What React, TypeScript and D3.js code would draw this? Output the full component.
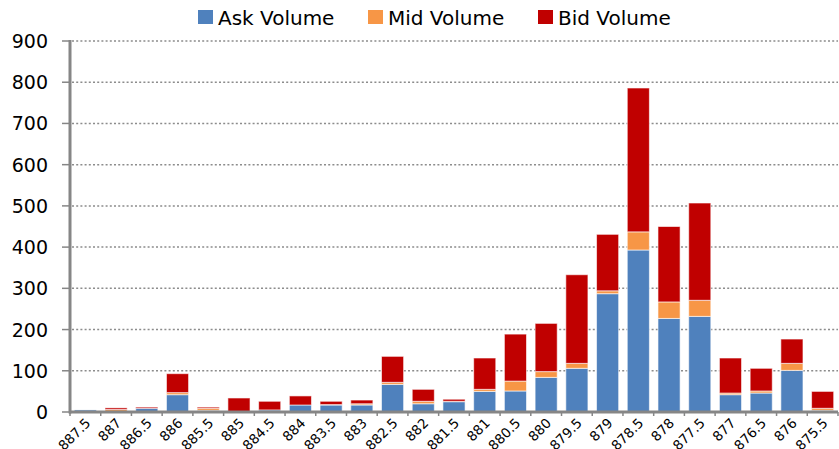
import React from 'react';
import * as d3 from 'd3';

const W = 839;
const H = 449;
const MARGIN = { top: 41, right: 1, bottom: 37, left: 70 };
const INNER_W = W - MARGIN.left - MARGIN.right;
const INNER_H = H - MARGIN.top - MARGIN.bottom;

const PRICES = [
  '887.5', '887', '886.5', '886', '885.5', '885', '884.5', '884', '883.5', '883',
  '882.5', '882', '881.5', '881', '880.5', '880', '879.5', '879', '878.5', '878',
  '877.5', '877', '876.5', '876', '875.5',
];
const ASK = [5, 1, 9, 42, 4, 0, 5, 17, 17, 17, 67, 20, 25, 50, 51, 84, 106, 287, 393, 227, 232, 42, 46, 101, 4];
const MID = [0, 5, 0, 5, 5, 0, 0, 0, 1, 3, 5, 6, 1, 5, 24, 14, 12, 7, 44, 40, 39, 4, 5, 17, 5];
const BID = [0, 4, 3, 46, 3, 34, 21, 22, 8, 9, 63, 29, 5, 76, 114, 117, 215, 137, 349, 183, 236, 85, 55, 59, 41];
const Y_TICKS = [0, 100, 200, 300, 400, 500, 600, 700, 800, 900];

const SERIES = [
  { key: 'ask', label: 'Ask Volume', color: '#4F81BD', values: ASK },
  { key: 'mid', label: 'Mid Volume', color: '#F79646', values: MID },
  { key: 'bid', label: 'Bid Volume', color: '#C00000', values: BID },
];

const FONT = 'Verdana, "DejaVu Sans", sans-serif';

export default function App() {
  const x = d3.scaleBand().domain(PRICES).range([0, INNER_W]).paddingInner(0.28).paddingOuter(0.14);
  const y = d3.scaleLinear().domain([0, 900]).range([INNER_H, 0]);

  const rows = PRICES.map((p, i) => ({ price: p, ask: ASK[i], mid: MID[i], bid: BID[i] }));
  const stacked = d3.stack<any>().keys(SERIES.map((s) => s.key))(rows);

  const step = x.step();
  const boundaries = d3.range(PRICES.length + 1).map((i) => i * step);

  const legendX = [198, 368, 538];

  return (
    <svg width={W} height={H} style={{ position: 'absolute', left: 0, top: 0, background: '#fff' }} fontFamily={FONT}>
      {/* Legend */}
      {SERIES.map((s, i) => (
        <g key={s.key} transform={`translate(${legendX[i]},0)`}>
          <rect y={10} width={15} height={14} fill={s.color} />
          <text x={20} y={25} fontSize={20} fill="#000">{s.label}</text>
        </g>
      ))}

      <g transform={`translate(${MARGIN.left},${MARGIN.top})`}>
        {/* Grid lines */}
        {Y_TICKS.filter((t) => t > 0).map((t) => (
          <line key={t} x1={2} x2={INNER_W} y1={y(t)} y2={y(t)} stroke="#8c8c8c" strokeWidth={1.5} strokeDasharray="2 2.2" />
        ))}

        {/* Bars */}
        {stacked.map((layer, si) => (
          <g key={layer.key}>
            {layer.map((d, i) => {
              const h = y(d[0]) - y(d[1]);
              if (h <= 0) return null;
              return (
                <rect
                  key={i}
                  x={x(PRICES[i])}
                  y={y(d[1])}
                  width={x.bandwidth()}
                  height={h}
                  fill={SERIES[si].color}
                  stroke="#ffffff"
                  strokeOpacity={0.6}
                  strokeWidth={1}
                />
              );
            })}
          </g>
        ))}

        {/* Y axis */}
        <line x1={0} x2={0} y1={-1} y2={INNER_H + 1.5} stroke="#868686" strokeWidth={3} />
        {Y_TICKS.map((t) => (
          <g key={t} transform={`translate(0,${y(t)})`}>
            <line x1={-8} x2={0} stroke="#868686" strokeWidth={1.5} />
            <text x={-22} y={7} textAnchor="end" fontSize={19} fill="#000">{t}</text>
          </g>
        ))}

        {/* X axis */}
        <line x1={-1} x2={INNER_W} y1={INNER_H} y2={INNER_H} stroke="#868686" strokeWidth={3} />
        {boundaries.map((b, i) => (
          <line key={i} x1={b} x2={b} y1={INNER_H} y2={INNER_H + 4} stroke="#868686" strokeWidth={1.5} />
        ))}
        {PRICES.map((p) => (
          <text
            key={p}
            transform={`translate(${(x(p) ?? 0) + x.bandwidth() / 2 + 6},${INNER_H + 12}) rotate(-45)`}
            textAnchor="end"
            fontSize={13.5}
            fill="#000"
          >
            {p}
          </text>
        ))}
      </g>
    </svg>
  );
}
